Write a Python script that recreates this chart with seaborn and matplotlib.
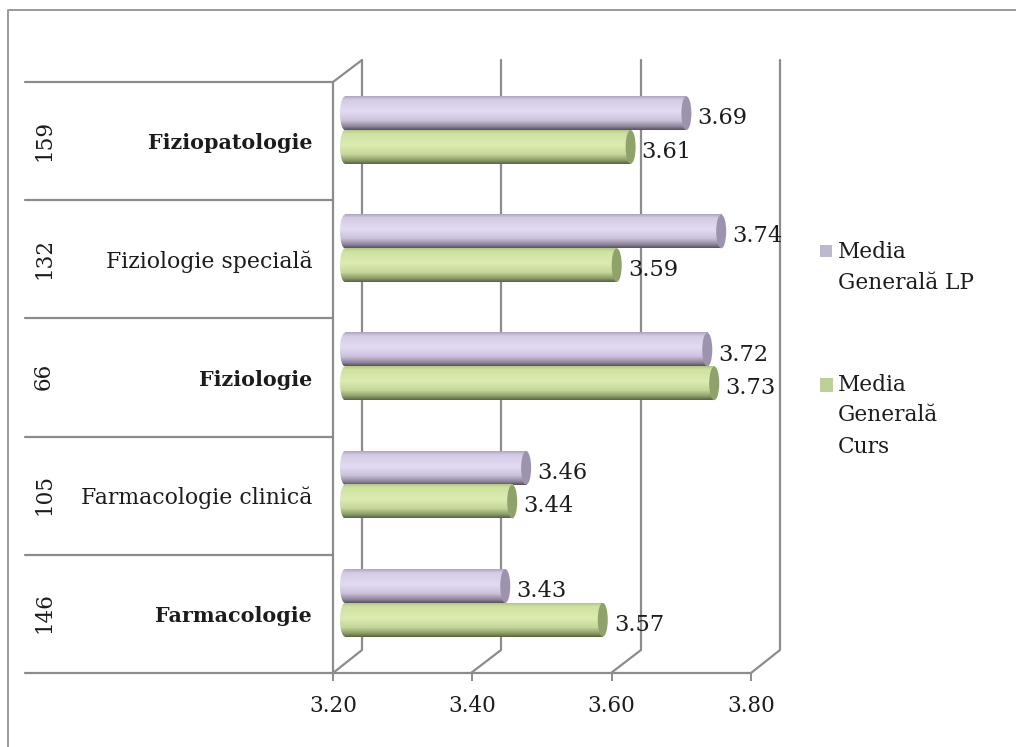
import numpy as np
import pandas as pd
import matplotlib
matplotlib.use("Agg")
import matplotlib.pyplot as plt
from matplotlib.colors import LinearSegmentedColormap
from matplotlib.patches import Ellipse, Rectangle
import seaborn as sns

categories = ['Fiziopatologie', 'Fiziologie specială', 'Fiziologie', 'Farmacologie clinică', 'Farmacologie']
counts = ['159', '132', '66', '105', '146']
bold_categories = ['Fiziopatologie', 'Fiziologie', 'Farmacologie']
media_lp = [3.69, 3.74, 3.72, 3.46, 3.43]
media_curs = [3.61, 3.59, 3.73, 3.44, 3.57]
x_ticks = [3.20, 3.40, 3.60, 3.80]
series_names = ['Media Generală LP', 'Media Generală Curs']

W, H = 1016, 747
GRID = '#8c8c8c'
TEXT = '#1c1c1c'
FONT = 'DejaVu Serif'

# top to bottom colour stops of the cylinders
purple_cm = LinearSegmentedColormap.from_list('p', [(0, '#b0a6c0'), (0.1, '#d4cae4'), (0.45, '#e3dbf3'),
                                                    (0.72, '#cbc1db'), (0.9, '#90869c'), (1, '#5a5264')])
green_cm = LinearSegmentedColormap.from_list('g', [(0, '#b4c88c'), (0.1, '#cfe2a0'), (0.45, '#dcecb2'),
                                                   (0.72, '#c4d698'), (0.9, '#8a9b68'), (1, '#586642')])
cap_colors = ['#9d93ae', '#8fa26c']


def box(left, top, right, bottom):
    return [left / W, 1 - bottom / H, (right - left) / W, (bottom - top) / H]


sns.set_theme(style='white')
plt.rcParams['font.family'] = FONT

fig = plt.figure(figsize=(W / 100, H / 100), dpi=100, facecolor='white')

# pixel layer for the outer frame, walls and legend
bg = fig.add_axes([0, 0, 1, 1], zorder=0)
bg.set_xlim(0, W)
bg.set_ylim(H, 0)
bg.axis('off')

bg.plot([8, 8, W], [H, 10, 10], color='#9a9a9a', lw=1.4)

back_x = [362, 501, 641, 780]
front_x = [333, 471, 611, 751]
for bx, fx in zip(back_x, front_x):
    bg.plot([bx, bx, fx], [60, 650, 673], color=GRID, lw=1.6)
bg.plot([333, 362], [82, 60], color=GRID, lw=1.6)

# front plane: categories, band lines and x ticks
front = fig.add_axes(box(333, 82, 751, 673), zorder=1)
front.patch.set_alpha(0)
front.set_xlim(3.2, 3.8)
front.set_ylim(len(categories) - 0.5, -0.5)
sns.despine(ax=front, top=True, right=True)
for side in ['left', 'bottom']:
    front.spines[side].set_color(GRID)
    front.spines[side].set_linewidth(1.6)
front.set_xticks(x_ticks)
front.set_xticklabels([f'{t:.2f}' for t in x_ticks], fontsize=15.5, color=TEXT)
front.tick_params(axis='x', length=6, width=1.4, color=GRID, pad=10, bottom=True)
front.set_yticks(range(len(categories)))
front.set_yticklabels(categories, fontsize=15.8, color=TEXT)
front.tick_params(axis='y', length=0, pad=15)
for lab in front.get_yticklabels():
    if lab.get_text() in bold_categories:
        lab.set_fontweight('bold')
        lab.set_fontsize(14.9)
for edge in np.arange(len(categories) + 1) - 0.5:
    front.plot([-0.737, 0], [edge, edge], transform=front.get_yaxis_transform(), color=GRID, lw=1.6, clip_on=False)
for i, n in enumerate(counts):
    bg.text(44, 140 + i * 118.2, n, rotation=90, ha='center', va='center', fontsize=15.5, color=TEXT)

# bars sit on a plane between front and back walls
ax = fig.add_axes(box(345, 71, 763, 662), zorder=2)
ax.patch.set_alpha(0)

df = pd.DataFrame({
    'category': categories * 2,
    'value': media_lp + media_curs,
    'series': [series_names[0]] * len(categories) + [series_names[1]] * len(categories),
})
sns.barplot(data=df, x='value', y='category', hue='series', order=categories, hue_order=series_names,
            palette=['#cfc5e0', '#c8dc98'], width=0.57, gap=0, legend=False, ax=ax)
ax.set_xlim(3.2, 3.8)
ax.set_ylim(len(categories) - 0.5, -0.5)
ax.axis('off')

cap_w = 0.6 / (763 - 345) * 10  # cap width of 10 px in data units
grad = np.linspace(0, 1, 64).reshape(-1, 1)
for cont, cm, cap in zip(ax.containers, [purple_cm, green_cm], cap_colors):
    for bar in cont:
        val = bar.get_width()
        y0 = bar.get_y()
        h = bar.get_height()
        yc = y0 + h / 2
        bar.set_visible(False)
        ax.imshow(grad, cmap=cm, extent=(3.2, val, y0 + h, y0), aspect='auto', zorder=3)
        # rounded start of the cylinder, sticks out left of the axes
        left = Ellipse((3.2, yc), cap_w, h, transform=ax.transData, facecolor='none', edgecolor='none')
        ax.add_patch(left)
        im = ax.imshow(grad, cmap=cm, extent=(3.2 - cap_w, 3.2, y0 + h, y0), aspect='auto', zorder=3)
        im.set_clip_path(left)
        im.set_clip_box(fig.bbox)
        ax.add_patch(Ellipse((val, yc), cap_w, h, facecolor=cap, edgecolor='none', zorder=4))
        ax.annotate(f'{val:.2f}', (val, yc), xytext=(8, -3.5), textcoords='offset points',
                    ha='left', va='center', fontsize=16.2, color=TEXT, zorder=5,
                    annotation_clip=False)
ax.set_xlim(3.2, 3.8)
ax.set_ylim(len(categories) - 0.5, -0.5)

# legend
bg.add_patch(Rectangle((820, 245), 12, 12, facecolor='#bcb8d0', edgecolor='none'))
bg.add_patch(Rectangle((820, 378), 13, 14, facecolor='#bdd09a', edgecolor='none'))
for txt, y in [('Media', 252), ('Generală LP', 283), ('Media', 385), ('Generală', 415), ('Curs', 447)]:
    bg.text(838, y, txt, fontsize=15.6, color=TEXT, va='center', ha='left')

fig.savefig('out.png', dpi=100)
